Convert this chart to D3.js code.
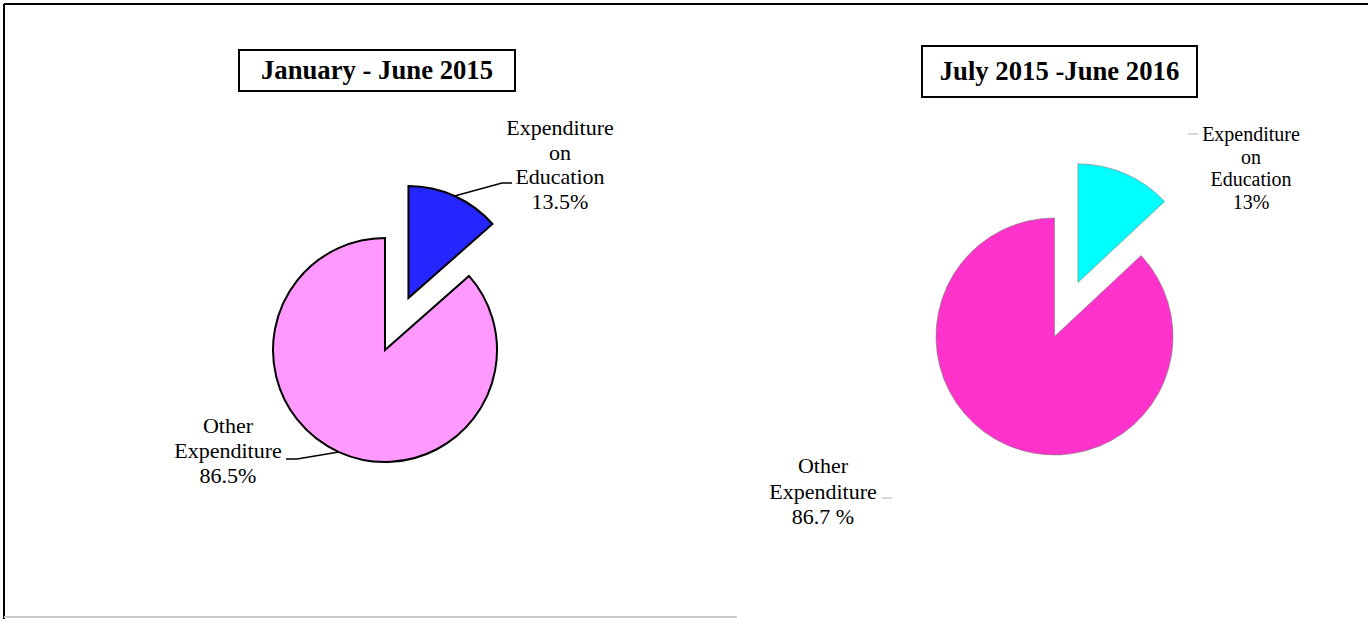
<!DOCTYPE html>
<html><head><meta charset="utf-8">
<script src="https://cdn.jsdelivr.net/npm/d3@7"></script>
<style>html,body{margin:0;padding:0;background:#fff;overflow:hidden}</style>
</head><body>
<svg id="c" width="1368" height="619"></svg>
<script>
const titles = ["January - June 2015", "July 2015 -June 2016"];
const categories = ["Expenditure on Education", "Other Expenditure"];
const values2015H1 = [13.5, 86.5];
const values2015_16 = [13, 86.7];
const labels2015H1 = [["Expenditure","on","Education","13.5%"], ["Other","Expenditure","86.5%"]];
const labels2015_16 = [["Expenditure","on","Education","13%"], ["Other","Expenditure","86.7 %"]];
const colors2015H1 = ["#2525FF", "#FF99FF"];
const colors2015_16 = ["#00FFFF", "#FF33CC"];

const svg = d3.select("#c");
const serif = "'Liberation Serif','Times New Roman',serif";

// frame
svg.append("line").attr("x1",4).attr("y1",4).attr("x2",1368).attr("y2",4).attr("stroke","#000").attr("stroke-width",2);
svg.append("line").attr("x1",4).attr("y1",4).attr("x2",4).attr("y2",619).attr("stroke","#000").attr("stroke-width",2);
svg.append("line").attr("x1",4).attr("y1",617).attr("x2",737).attr("y2",617).attr("stroke","#ccc").attr("stroke-width",2);

function title(text, box, baseY){
  svg.append("rect").attr("x",box[0]).attr("y",box[1]).attr("width",box[2]-box[0]).attr("height",box[3]-box[1])
    .attr("fill","#fff").attr("stroke","#000").attr("stroke-width",2);
  svg.append("text").attr("x",(box[0]+box[2])/2).attr("y",baseY).attr("text-anchor","middle")
    .attr("font-family",serif).attr("font-weight","bold").attr("font-size",26.7).text(text);
}
title(titles[0],[239,50,515,91],79);
title(titles[1],[922,46,1197,97],80);

const pie = d3.pie().sort(null).startAngle(0).endAngle(2*Math.PI);

function drawPie(vals, cols, cx, cy, r, explode, stroke, sw){
  const arcs = pie(vals);
  const arc = d3.arc().innerRadius(0).outerRadius(r);
  const g = svg.append("g").attr("transform",`translate(${cx},${cy})`);
  const info = [];
  arcs.forEach((a,i)=>{
    const mid = (a.startAngle+a.endAngle)/2;
    const off = i===0 ? explode : 0;
    const ox = off*Math.sin(mid), oy = -off*Math.cos(mid);
    g.append("path").attr("d",arc(a)).attr("transform",`translate(${ox},${oy})`)
      .attr("fill",cols[i]).attr("stroke",stroke).attr("stroke-width",sw).attr("stroke-linejoin","miter");
    info.push({x: cx+ox+r*Math.sin(mid), y: cy+oy-r*Math.cos(mid)});
  });
  return info;
}

function label(lines, cx, y0, lh, size){
  const t = svg.append("text").attr("font-family",serif).attr("font-size",size).attr("text-anchor","middle").attr("fill","#000");
  lines.forEach((l,i)=>t.append("tspan").attr("x",cx).attr("y",y0+i*lh).text(l));
}

// left pie
const L = drawPie(values2015H1, colors2015H1, 385, 350, 112, 57, "#000", 2);
svg.append("polyline").attr("points",`${L[0].x},${L[0].y} 502,183 512,183`).attr("fill","none").attr("stroke","#000").attr("stroke-width",1.5);
svg.append("polyline").attr("points",`${L[1].x},${L[1].y} 297,459 286,459`).attr("fill","none").attr("stroke","#000").attr("stroke-width",1.5);
label(labels2015H1[0], 560, 135, 24.5, 22);
label(labels2015H1[1], 228, 433, 25, 22);

// right pie
drawPie(values2015_16, colors2015_16, 1054.5, 336.5, 118.5, 59, "#777", 0.6);
svg.append("line").attr("x1",1188).attr("y1",134).attr("x2",1198).attr("y2",134).attr("stroke","#ccc").attr("stroke-width",1.5);
svg.append("line").attr("x1",882).attr("y1",498).attr("x2",892).attr("y2",498).attr("stroke","#ccc").attr("stroke-width",1.5);
label(labels2015_16[0], 1251, 141, 22.5, 20);
label(labels2015_16[1], 823, 473, 25.5, 22);
</script>
</body></html>
